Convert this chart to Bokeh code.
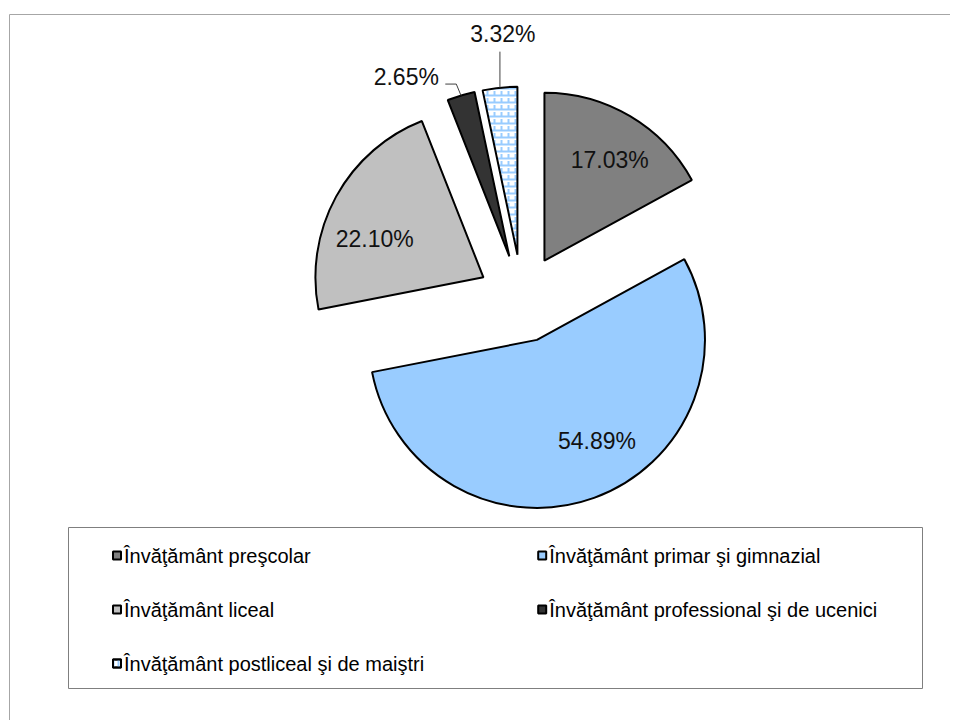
import math
from bokeh.plotting import figure
from bokeh.models import Range1d, ColumnDataSource
from bokeh.embed import file_html
from bokeh.resources import INLINE
from bokeh.core.properties import value

# ---------------- data ----------------
categories = [
    "Învăţământ preşcolar",
    "Învăţământ primar şi gimnazial",
    "Învăţământ liceal",
    "Învăţământ professional şi de ucenici",
    "Învăţământ postliceal şi de maiştri",
]
shares = [17.03, 54.89, 22.10, 2.65, 3.32]
share_labels = ["17.03%", "54.89%", "22.10%", "2.65%", "3.32%"]

# ---------------- style / layout ----------------
fill_colors = ["#808080", "#99CCFF", "#C0C0C0", "#333333", "#FFFFFF"]
patterned = [False, False, False, False, True]
FONT = "Liberation Sans"
W, H = 950, 720
CX, CY = 521.5, 298.0          # pie centre (page px)
R = 168.0                      # radius
EXPLODE = 44.0                 # explosion distance
# inside label placement: (direction deg clockwise from top, distance from slice apex)
inside_label_pos = {0: (33.0, 120.0), 1: (149.3, 117.5), 2: (289.5, 115.3)}
# outside labels: offset of text from slice outer mid-point, and leader elbow
outside_label_pos = {3: ((-54.7, -18.5), [(-4.7, -11.4), (-15.7, -11.4)]),
                     4: ((3.0, -53.7), [(0.0, -36.0)])}

# page coordinates: x = px, y = -py
p = figure(width=W, height=H, x_range=Range1d(0, W), y_range=Range1d(-H, 0),
           output_backend="svg", toolbar_location=None, min_border=0,
           x_axis_type=None, y_axis_type=None)
p.grid.visible = False
p.outline_line_color = None
p.background_fill_color = "white"
p.border_fill_color = "white"

# outer chart border (continues beyond the window on the right and bottom)
p.quad(left=[9], right=[1000], top=[-14], bottom=[-800], fill_color=None,
       line_color="#A6A6A6", line_width=1)

total = sum(shares)
cum = 0.0
xs, ys, sa, ea, mids = [], [], [], [], []
for v in shares:
    t1 = cum / total * 360.0
    cum += v
    t2 = cum / total * 360.0
    mid = (t1 + t2) / 2
    mids.append(mid)
    xs.append(CX + EXPLODE * math.sin(math.radians(mid)))
    ys.append(-(CY - EXPLODE * math.cos(math.radians(mid))))
    sa.append(math.radians(90 - t1))
    ea.append(math.radians(90 - t2))

src = ColumnDataSource(dict(x=xs, y=ys, sa=sa, ea=ea, color=fill_colors, cat=categories))
p.wedge(x="x", y="y", radius=R, start_angle="sa", end_angle="ea", direction="clock",
        fill_color="color", line_color=None, source=src)

# brick-like pattern for patterned slices
pidx = [i for i, f in enumerate(patterned) if f]
psrc = ColumnDataSource(dict(x=[xs[i] for i in pidx], y=[ys[i] for i in pidx],
                             sa=[sa[i] for i in pidx], ea=[ea[i] for i in pidx]))
p.wedge(x="x", y="y", radius=R, start_angle="sa", end_angle="ea", direction="clock",
        fill_alpha=0, line_color=None, hatch_pattern="horizontal_line",
        hatch_color="#99CCFF", hatch_scale=7, hatch_weight=2, source=psrc)
p.wedge(x="x", y="y", radius=R, start_angle="sa", end_angle="ea", direction="clock",
        fill_alpha=0, line_color=None, hatch_pattern="vertical_dash",
        hatch_color="#99CCFF", hatch_scale=7, hatch_weight=2, source=psrc)

# outlines
p.wedge(x="x", y="y", radius=R, start_angle="sa", end_angle="ea", direction="clock",
        fill_alpha=0, line_color="black", line_width=2, source=src)

# labels
lx, ly, lt = [], [], []
for i, (ang, dist) in inside_label_pos.items():
    lx.append(xs[i] + dist * math.sin(math.radians(ang)))
    ly.append(ys[i] + dist * math.cos(math.radians(ang)))
    lt.append(share_labels[i])
for i, (toff, elbow) in outside_label_pos.items():
    # outer mid-point of slice
    ox = xs[i] + R * math.sin(math.radians(mids[i]))
    oy = ys[i] + R * math.cos(math.radians(mids[i]))
    lx.append(ox + toff[0])
    ly.append(oy - toff[1])
    lt.append(share_labels[i])
    px = [ox] + [ox + e[0] for e in elbow]
    py = [oy] + [oy - e[1] for e in elbow]
    p.line(px, py, line_color="#404040", line_width=1)

p.text(x=lx, y=ly, text=lt, text_align="center", text_baseline="middle",
       text_font=value(FONT), text_font_size="23px", text_color="#111111")

# legend
LEG_L, LEG_R, LEG_T, LEG_B = 68, 922, 527, 688
p.quad(left=[LEG_L], right=[LEG_R], top=[-LEG_T], bottom=[-LEG_B], fill_color="white",
       line_color="#7F7F7F", line_width=1)
col_x = [116.5, 541.7]
row_y = [555.0, 609.0, 663.0]
mx, my, mc, tx, ty = [], [], [], [], []
for i, c in enumerate(categories):
    r, k = divmod(i, 2)
    mx.append(col_x[k]); my.append(-row_y[r]); mc.append(fill_colors[i])
    tx.append(col_x[k] + 7); ty.append(-row_y[r])
p.rect(x=mx, y=my, width=8, height=8, width_units="screen", height_units="screen",
       fill_color=mc, line_color="black", line_width=2)
hx = [mx[i] for i in pidx]; hy = [my[i] for i in pidx]
p.rect(x=hx, y=hy, width=8, height=8, width_units="screen", height_units="screen",
       fill_alpha=0, line_color="black", line_width=2, hatch_pattern="vertical_line",
       hatch_color="#99CCFF", hatch_scale=5, hatch_weight=2)
p.text(x=tx, y=ty, text=categories, text_align="left", text_baseline="middle",
       text_font=value(FONT), text_font_size="20px", text_color="black")

open("out.html", "w").write(file_html(p, INLINE))
